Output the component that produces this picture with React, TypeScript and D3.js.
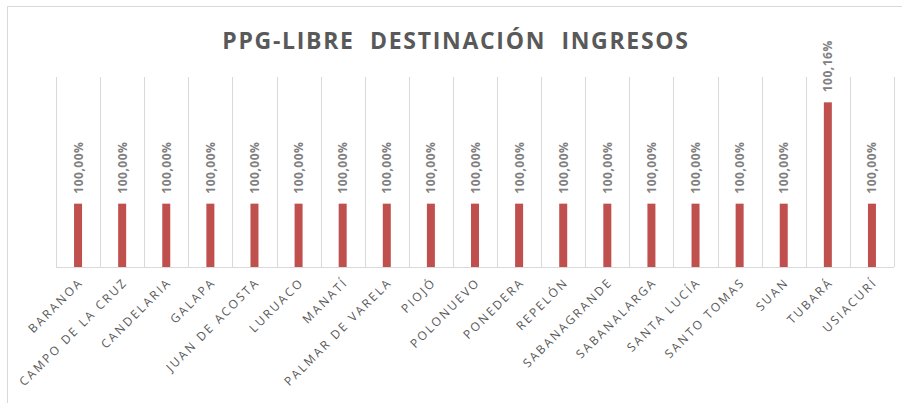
import React from "react";
import * as d3 from "d3";

const categories = [
  "BARANOA", "CAMPO DE LA CRUZ", "CANDELARIA", "GALAPA", "JUAN DE ACOSTA",
  "LURUACO", "MANATÍ", "PALMAR DE VARELA", "PIOJÓ", "POLONUEVO", "PONEDERA",
  "REPELÓN", "SABANAGRANDE", "SABANALARGA", "SANTA LUCÍA", "SANTO TOMAS",
  "SUAN", "TUBARÁ", "USIACURÍ",
];
const values = [
  100, 100, 100, 100, 100, 100, 100, 100, 100, 100, 100, 100, 100, 100, 100,
  100, 100, 100.16, 100,
];
const yDomain = [99.9, 100.2];
const title = "PPG-LIBRE  DESTINACIÓN  INGRESOS";

const W = 902, H = 403;
const m = { left: 56, right: 8, top: 77, bottom: 136 };

export default function App() {
  const x = d3.scaleBand().domain(categories).range([m.left, W - m.right]).paddingInner(0).paddingOuter(0);
  const y = d3.scaleLinear().domain(yDomain).range([H - m.bottom, m.top]);
  const fmt = (v: number) => v.toFixed(2).replace(".", ",") + "%";
  const barW = 8;
  const gridX = [...categories.map((c) => x(c)!), (x(categories[categories.length - 1]) ?? 0) + x.bandwidth()];
  const font = "'Open Sans', 'Noto Sans', sans-serif";
  return (
    <svg width={W} height={H} style={{ position: "absolute", left: 0, top: 0, background: "#fff" }}>
      <rect x={7.5} y={6.5} width={W + 20} height={H + 20} fill="#fff" stroke="#d9d9d9" strokeWidth={1} />
      <text x={456} y={49} textAnchor="middle" fontFamily={font} fontWeight="bold" fontSize={23} fill="#595959" letterSpacing={1.7} style={{ whiteSpace: "pre" }}>
        {title}
      </text>
      {gridX.map((gx, i) => (
        <line key={i} x1={Math.round(gx) + 0.5} x2={Math.round(gx) + 0.5} y1={m.top} y2={H - m.bottom} stroke="#d9d9d9" strokeWidth={1} />
      ))}
      <line x1={m.left} x2={W - m.right} y1={H - m.bottom + 0.5} y2={H - m.bottom + 0.5} stroke="#d9d9d9" strokeWidth={1} />
      {categories.map((c, i) => {
        const cx = x(c)! + x.bandwidth() / 2;
        const top = y(values[i]);
        return (
          <g key={c}>
            <rect x={cx - barW / 2} y={top} width={barW} height={H - m.bottom - top} fill="#c0504d" />
            <text transform={`translate(${cx + 4.5},${top - 10}) rotate(-90)`} fontFamily={font} fontWeight="bold" fontSize={12} fill="#808080" letterSpacing={0.5}>
              {fmt(values[i])}
            </text>
            <text transform={`translate(${cx + 6},${H - m.bottom + 16}) rotate(-45)`} textAnchor="end" fontFamily={font} fontSize={12} fill="#595959" letterSpacing={2.2}>
              {c}
            </text>
          </g>
        );
      })}
    </svg>
  );
}
